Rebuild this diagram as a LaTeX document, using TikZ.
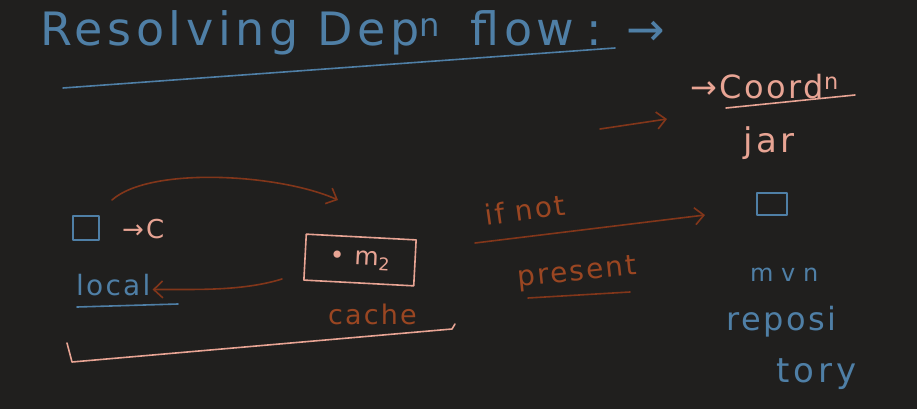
\documentclass[tikz,border=0pt]{standalone}
\usepackage{fontspec}
\setmainfont{DejaVu Sans}[LetterSpace=8]
\usetikzlibrary{arrows.meta}
\definecolor{bg}{HTML}{201F1E}
\definecolor{inkblue}{HTML}{4F7FA6}
\definecolor{inkpeach}{HTML}{E8A494}
\definecolor{inkbrown}{HTML}{82361A}
\definecolor{inkorange}{HTML}{9A4622}
\tikzset{
  ink/.style={line width=1.6pt, line cap=round, line join=round},
  blueink/.style={ink, draw=inkblue},
  peachink/.style={ink, draw=inkpeach},
  brownink/.style={ink, draw=inkbrown},
  barb/.style={-{Straight Barb[length=9pt,width=17pt,line width=1.6pt]}},
  bluetext/.style={text=inkblue, inner sep=0pt},
  peachtext/.style={text=inkpeach, inner sep=0pt},
  browntext/.style={text=inkorange, inner sep=0pt},
  hand/.style={font=\fontsize{#1}{#1}\selectfont},
}
\begin{document}
\begin{tikzpicture}[x=1pt,y=-1pt]
\fill[bg] (0,0) rectangle (917,409);
\useasboundingbox (0,0) rectangle (917,409);

% title
\node[bluetext, anchor=base west, font=\fontsize{46}{46}\selectfont\addfontfeatures{LetterSpace=10}] (title) at (40,46) {Resolving Dep\textsuperscript{n}\hspace{30pt}flow\hspace{12pt}:\hspace{24pt}→};
\draw[blueink] (63,88) -- (615,48);

% local side
\node[draw=inkblue, ink, minimum width=26pt, minimum height=24pt, inner sep=0pt] (sqlocal) at (86,228) {};
\node[peachtext, anchor=base west, hand=26] (toC) at (122,238) {→C};
\node[bluetext, anchor=base west, hand=28] (local) at (76,295) {local};
\draw[blueink] (77,307) -- (178,304);

% cache box
\node[draw=inkpeach, ink, minimum width=110pt, minimum height=46pt, rotate=-3, peachtext, hand=25] (cachebox) at (360,260) {• m\textsubscript{2}};
\node[browntext, anchor=base west, hand=27] (cache) at (328,324) {cache};

% arrows between local and cache
\coordinate (arcstart) at (112,200);
\coordinate (arcend) at (338,200);
\draw[brownink, barb] (arcstart) .. controls (150,166) and (280,174) .. (arcend);
\coordinate (backstart) at (282,279);
\draw[brownink, barb] (backstart) .. controls (240,292) and (190,289) .. ([xshift=2pt,yshift=-5pt]local.east);

% bracket
\draw[peachink] (67,343) -- (72,362) -- (452,329) -- (455,324);

% if not present
\node[browntext, anchor=base west, hand=28, rotate=8] (ifnot) at (486,226) {if not};
\node[browntext, anchor=base west, hand=28, rotate=6] (present) at (518,287) {present};
\draw[brownink] (528,298) -- (630,292);
\coordinate (longstart) at (475,243);
\node[draw=inkblue, ink, minimum width=30pt, minimum height=22pt, inner sep=0pt] (sqrepo) at (772,204) {};
\coordinate (longend) at (705,215);
\draw[brownink, barb] (longstart) -- (longend);

% coordinates
\coordinate (shortstart) at (600,129);
\coordinate (shortend) at (667,119);
\draw[brownink, barb] (shortstart) -- (shortend);
\node[peachtext, anchor=base west, hand=32] (coord) at (690,99) {→Coord\textsuperscript{n}};
\draw[peachink] (726,108) -- (855,95);
\node[peachtext, anchor=base west, font=\fontsize{34}{34}\selectfont\addfontfeatures{LetterSpace=10}] (jar) at (743,152) {jar};

% mvn repository
\node[bluetext, anchor=base west, font=\fontsize{24}{24}\selectfont\addfontfeatures{LetterSpace=32}] (mvn) at (750,281) {mvn};
\node[bluetext, anchor=base west, hand=32] (reposi) at (726,330) {reposi};
\node[bluetext, anchor=base west, font=\fontsize{34}{34}\selectfont\addfontfeatures{LetterSpace=12}] (tory) at (776,382) {tory};
\end{tikzpicture}
\end{document}
